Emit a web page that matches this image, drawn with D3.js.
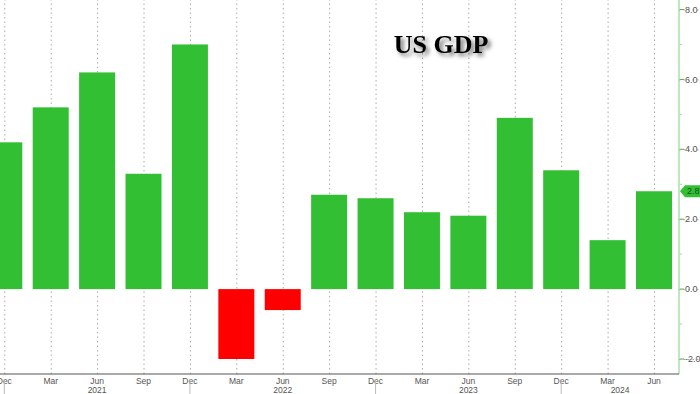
<!DOCTYPE html>
<html>
<head>
  <script src="https://d3js.org/d3.v7.min.js"></script>
  <style>
    body { margin: 0; background: #fff; }
    .grid line { stroke: #aaa; stroke-dasharray: 1.5,3; }
    .grid .domain { stroke: none; }
    text { font-family: "Liberation Sans", Arial, sans-serif; }
  </style>
</head>
<body>
<svg id="svg" width="700" height="394"></svg>
<script>
  // quarterly GDP, annualised % change
  const quarters = ["Dec", "Mar", "Jun", "Sep", "Dec", "Mar", "Jun", "Sep",
                    "Dec", "Mar", "Jun", "Sep", "Dec", "Mar", "Jun"];
  const gdp = [4.2, 5.2, 6.2, 3.3, 7.0, -2.0, -0.6, 2.7, 2.6, 2.2, 2.1, 4.9, 3.4, 1.4, 2.8];
  const years = ["2021", "2022", "2023", "2024"];
  const yearStart = [0, 4, 8, 12];   // index of the Dec tick that opens each year
  const yTicks = [-2, 0, 2, 4, 6, 8];
  const yMinor = [-1, 1, 3, 5, 7];

  const svg = d3.select("#svg");
  const plotRight = 679, plotBottom = 374;

  const x = d3.scaleLinear().domain([0, 14]).range([4.3, 654]);
  const y = d3.scaleLinear().domain([-2, 8]).range([359, 9.5]);
  const idx = d3.range(quarters.length);

  // gridlines
  svg.append("g").attr("class", "grid")
    .attr("transform", `translate(0,${plotBottom})`)
    .call(d3.axisBottom(x).tickValues(idx).tickSize(-plotBottom).tickFormat(""));
  svg.append("g").attr("class", "grid")
    .call(d3.axisLeft(y).tickValues(yTicks).tickSize(-plotRight).tickFormat(""))
    .attr("transform", `translate(${plotRight},0)`);

  // bars
  const bw = 36;
  svg.append("g").selectAll("rect")
    .data(gdp)
    .join("rect")
    .attr("x", (d, i) => x(i) - bw / 2)
    .attr("width", bw)
    .attr("y", d => y(Math.max(0, d)))
    .attr("height", d => Math.abs(y(d) - y(0)))
    .attr("fill", d => d >= 0 ? "#33bf33" : "#ff0000");

  // title
  const defs = svg.append("defs");
  const f = defs.append("filter").attr("id", "shadow").attr("x", "-20%").attr("y", "-20%").attr("width", "150%").attr("height", "160%");
  f.append("feDropShadow").attr("dx", 3).attr("dy", 3).attr("stdDeviation", 2).attr("flood-color", "#000").attr("flood-opacity", 0.55);
  svg.append("text")
    .attr("x", 441).attr("y", 53)
    .attr("text-anchor", "middle")
    .style("font-family", "'Liberation Serif', 'Times New Roman', serif")
    .style("font-weight", "bold")
    .style("font-size", "26px")
    .attr("filter", "url(#shadow)")
    .text("US GDP");

  // right axis
  const right = svg.append("g").attr("transform", `translate(${plotRight},0)`);
  right.append("line").attr("x1", 0).attr("x2", 0).attr("y1", 0).attr("y2", plotBottom)
    .attr("stroke", "#7ccf7c").attr("stroke-width", 1);
  right.selectAll("line.major").data(yTicks).join("line").attr("class", "major")
    .attr("x1", 1).attr("x2", 5).attr("y1", d => y(d)).attr("y2", d => y(d))
    .attr("stroke", "#4caf50");
  right.selectAll("line.minor").data(yMinor).join("line").attr("class", "minor")
    .attr("x1", 1).attr("x2", 3).attr("y1", d => y(d)).attr("y2", d => y(d))
    .attr("stroke", "#9bd89b");
  right.selectAll("text.tick").data(yTicks).join("text").attr("class", "tick")
    .attr("x", 6).attr("y", d => y(d)).attr("dy", "0.35em")
    .attr("fill", "#555").style("font-size", "9px")
    .text(d => d3.format(".1f")(d).replace("−", "-"));

  // last value marker
  const last = gdp[gdp.length - 1];
  const ly = y(last);
  right.append("path")
    .attr("d", `M1,${ly} L6,${ly - 6} L24,${ly - 6} L24,${ly + 6} L6,${ly + 6} Z`)
    .attr("fill", "#33bf33");
  right.append("text").attr("x", 8).attr("y", ly).attr("dy", "0.35em")
    .attr("fill", "#14501a").style("font-size", "9px").text(last.toFixed(1));

  // bottom axis
  const bottom = svg.append("g").attr("transform", `translate(0,${plotBottom})`);
  bottom.append("line").attr("x1", 0).attr("x2", plotRight).attr("y1", 0).attr("y2", 0)
    .attr("stroke", "#555").attr("stroke-width", 1.2);
  bottom.selectAll("text.month").data(idx).join("text").attr("class", "month")
    .attr("x", i => x(i)).attr("y", 10)
    .attr("text-anchor", "middle").attr("fill", "#555").style("font-size", "8.5px")
    .text(i => quarters[i]);
  bottom.selectAll("line.sep").data(yearStart).join("line").attr("class", "sep")
    .attr("x1", i => x(i)).attr("x2", i => x(i)).attr("y1", 5).attr("y2", 20)
    .attr("stroke", "#bbb");
  bottom.selectAll("text.year").data(years).join("text").attr("class", "year")
    .attr("x", (d, k) => {
      const a = x(yearStart[k]);
      const b = k + 1 < yearStart.length ? x(yearStart[k + 1]) : plotRight;
      return (a + b) / 2;
    })
    .attr("y", 19)
    .attr("text-anchor", "middle").attr("fill", "#555").style("font-size", "8.5px")
    .text(d => d);
</script>
</body>
</html>
